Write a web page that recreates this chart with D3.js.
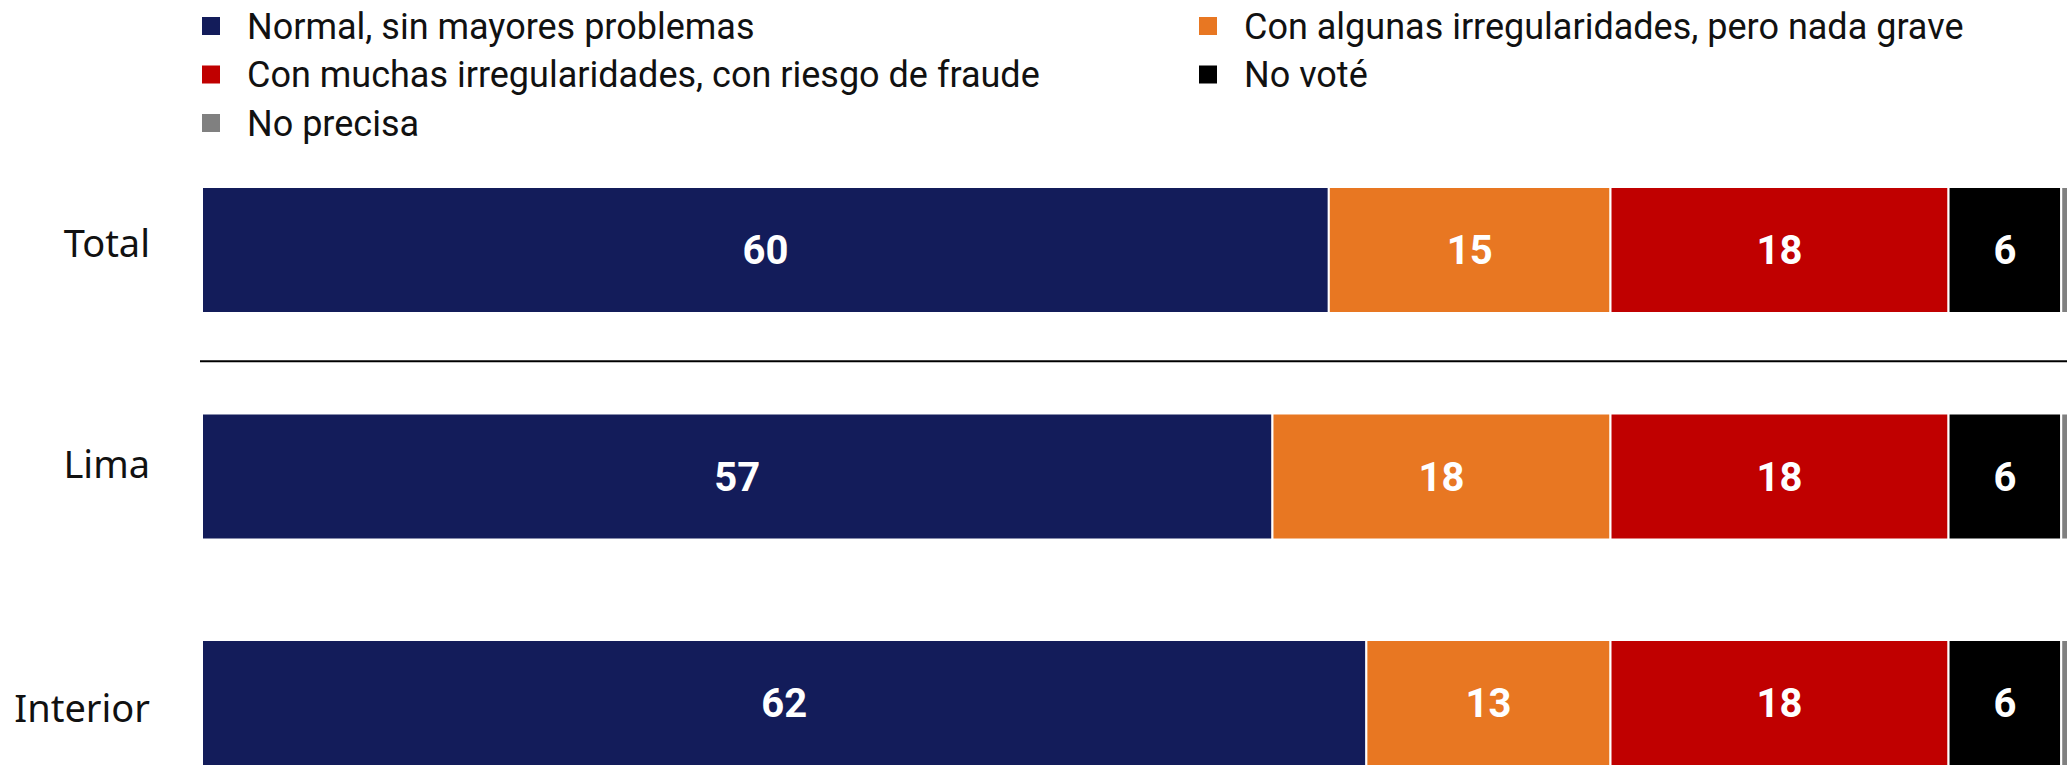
<!DOCTYPE html>
<html>
<head>
<meta charset="utf-8">
<script src="https://cdn.jsdelivr.net/npm/d3@7"></script>
<style>
  body { margin: 0; background: #fff; }
</style>
</head>
<body>
<script>
// data
var rows = ["Total", "Lima", "Interior"];
var seriesNames = [
    "Normal, sin mayores problemas",
    "Con algunas irregularidades, pero nada grave",
    "Con muchas irregularidades, con riesgo de fraude",
    "No voté",
    "No precisa"
];
var seriesColors = ["#131c5a", "#e87722", "#c00000", "#000000", "#808080"];
var normal   = [60, 57, 62];
var algunas  = [15, 18, 13];
var muchas   = [18, 18, 18];
var noVote   = [6, 6, 6];
var noPrecisa = [1, 1, 1];

var svgWidth = 2067;
var svgHeight = 765;

var svg = d3.select("body").append("svg")
    .attr("width", svgWidth)
    .attr("height", svgHeight);

// build table for stack
var table = rows.map((r, i) => ({
    row: r,
    s0: normal[i], s1: algunas[i], s2: muchas[i], s3: noVote[i], s4: noPrecisa[i]
}));
var keys = ["s0", "s1", "s2", "s3", "s4"];
var stacked = d3.stack().keys(keys)(table);

// scales (bars run past the right edge, like the original)
var x = d3.scaleLinear().domain([0, 100]).range([202, 2080]);
var y = d3.scaleBand().domain(rows).range([187, 766]).paddingInner(0.4437).paddingOuter(0);

// legend
var legend = svg.append("g").attr("class", "legend");
var legendPos = [[202, 26], [1199, 26], [202, 74.5], [1199, 74.5], [202, 123]];
seriesNames.forEach((name, i) => {
    var g = legend.append("g").attr("transform", `translate(${legendPos[i][0]}, ${legendPos[i][1]})`);
    g.append("rect")
        .attr("x", 0).attr("y", -9)
        .attr("width", 18).attr("height", 18)
        .style("fill", seriesColors[i]);
    g.append("text")
        .attr("x", 45).attr("y", 0)
        .attr("dy", "0.35em")
        .style("font-family", "Roboto, sans-serif")
        .style("font-size", "36px")
        .style("fill", "#111")
        .text(name);
});

// bars
var layers = svg.append("g").selectAll(".layer")
    .data(stacked)
    .enter().append("g")
    .attr("class", "layer")
    .style("fill", (d, i) => seriesColors[i]);

layers.selectAll("rect")
    .data(d => d)
    .enter().append("rect")
    .attr("x", d => x(d[0]))
    .attr("y", d => y(d.data.row))
    .attr("width", d => x(d[1]) - x(d[0]))
    .attr("height", y.bandwidth())
    .style("stroke", "#fff")
    .style("stroke-width", 2);

// value labels (skip the thin "No precisa" slice)
layers.filter((d, i) => i < 4).selectAll("text")
    .data(d => d)
    .enter().append("text")
    .attr("x", d => (x(d[0]) + x(d[1])) / 2)
    .attr("y", d => y(d.data.row) + y.bandwidth() / 2)
    .attr("dy", "0.36em")
    .attr("text-anchor", "middle")
    .style("font-family", "Roboto, sans-serif")
    .style("font-weight", "bold")
    .style("font-size", "40px")
    .style("fill", "#fff")
    .text(d => d[1] - d[0]);

// row labels - the original ones sit a bit off centre
var nudge = { Total: -7, Lima: -12, Interior: 5 };
svg.append("g").selectAll(".rowLabel")
    .data(rows)
    .enter().append("text")
    .attr("class", "rowLabel")
    .attr("x", 150)
    .attr("y", d => y(d) + y.bandwidth() / 2 + nudge[d])
    .attr("dy", "0.36em")
    .attr("text-anchor", "end")
    .style("font-family", "'Noto Sans', sans-serif")
    .style("font-size", "38px")
    .style("fill", "#111")
    .text(d => d);

// separator under Total
var sepY = y("Total") + y.bandwidth() + (y.step() - y.bandwidth()) / 2 - 2;
svg.append("line")
    .attr("x1", 200).attr("x2", svgWidth)
    .attr("y1", sepY).attr("y2", sepY)
    .style("stroke", "#000")
    .style("stroke-width", 2);
</script>
</body>
</html>
